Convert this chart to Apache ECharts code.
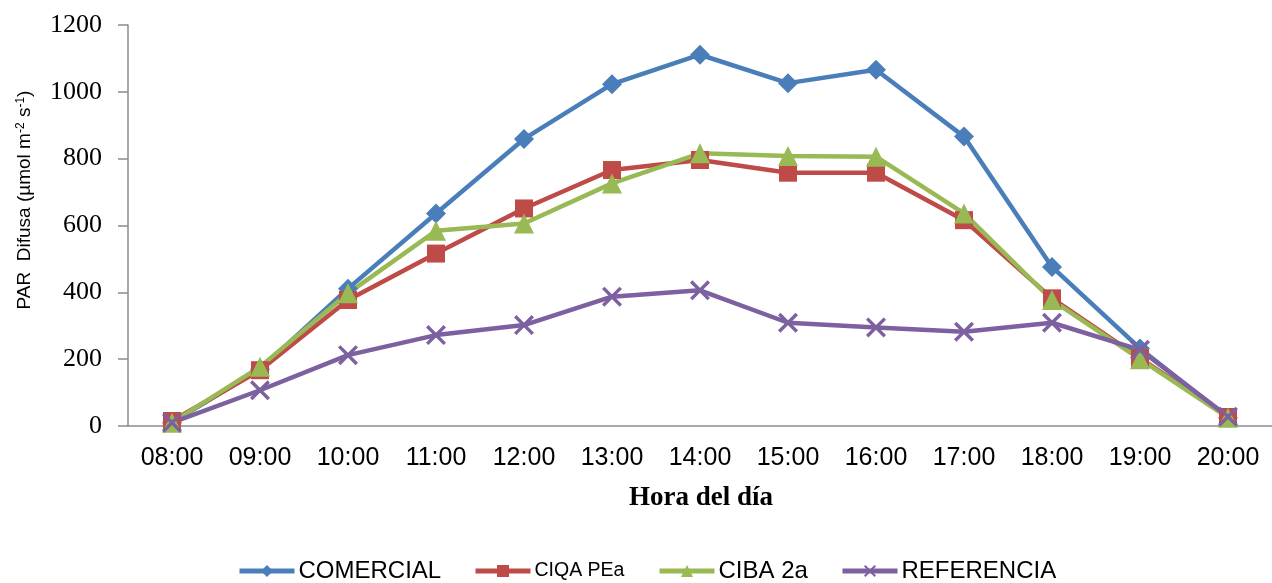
<!DOCTYPE html>
<html>
<head>
<meta charset="utf-8">
<title>PAR Difusa</title>
<script src="https://cdn.jsdelivr.net/npm/echarts@6/dist/echarts.min.js"></script>
<style>
  html, body { margin: 0; padding: 0; background: #ffffff; }
  #chart { width: 1272px; height: 583px; }
</style>
</head>
<body>
<div id="chart"></div>
<script>
// Hours of the day (x categories)
const hours = ['08:00', '09:00', '10:00', '11:00', '12:00', '13:00', '14:00',
               '15:00', '16:00', '17:00', '18:00', '19:00', '20:00'];

// Diffuse PAR (µmol m-2 s-1) per cover material
const comercial  = [10, 170, 411, 636, 859, 1023, 1111, 1026, 1066, 866, 476, 232, 25];
const ciqaPEa    = [15, 167, 377, 516, 651, 766, 796, 758, 758, 616, 382, 203, 27];
const ciba2a     = [10, 177, 397, 584, 606, 726, 816, 808, 806, 636, 377, 200, 25];
const referencia = [10, 107, 212, 272, 302, 387, 406, 309, 295, 282, 309, 228, 28];

// Y tick values
const yTicks = { min: 0, max: 1200, step: 200 };

const names = ['COMERCIAL', 'CIQA PEa', 'CIBA 2a', 'REFERENCIA'];
const colors = ['#4A7EBB', '#BE4B48', '#98B954', '#7D60A0'];

// Filled "x" glyph used as the marker of the reference series
const crossPath = 'path://M0,1.2L1.2,0L10,8.8L8.8,10Z M8.8,0L10,1.2L1.2,10L0,8.8Z';

function lineSeries(name, data, color, symbol, size) {
  return {
    name: name,
    type: 'line',
    data: data,
    symbol: symbol,
    symbolSize: size,
    showAllSymbol: true,
    lineStyle: { color: color, width: 4.5 },
    itemStyle: { color: color, borderColor: color, borderWidth: 0 },
    emphasis: { disabled: true },
    z: 2
  };
}

// One legend block per series so each entry sits at its own offset
const legendLeft = [237, 473, 657, 840];
const legendTop = [559, 561, 559, 559];
const legendFont = [24, 19.5, 24, 24];
const legends = names.map(function (name, i) {
  return {
    data: [name],
    left: legendLeft[i],
    top: legendTop[i],
    padding: 0,
    itemWidth: 55,
    itemHeight: 15,
    itemGap: 4,
    lineStyle: { width: 5 },
    textStyle: {
      color: '#000000',
      fontFamily: 'Liberation Sans, Arial, sans-serif',
      fontSize: legendFont[i],
      padding: [0, 0, 0, -1]
    },
    selectedMode: false
  };
});

const chart = echarts.init(document.getElementById('chart'), null, { renderer: 'canvas' });

chart.setOption({
  animation: false,
  backgroundColor: '#ffffff',
  grid: { left: 128, top: 25, right: -9, bottom: 157, containLabel: false },
  xAxis: {
    type: 'category',
    data: hours,
    boundaryGap: true,
    axisLine: { show: true, lineStyle: { color: '#8C8C8C', width: 1.5 } },
    axisTick: { show: false },
    axisLabel: {
      margin: 20,
      color: '#000000',
      fontFamily: 'Liberation Sans, Arial, sans-serif',
      fontSize: 25
    },
    splitLine: { show: false }
  },
  yAxis: {
    type: 'value',
    min: yTicks.min,
    max: yTicks.max,
    interval: yTicks.step,
    axisLine: { show: true, lineStyle: { color: '#8C8C8C', width: 1.5 } },
    axisTick: { show: true, inside: false, length: 10, lineStyle: { color: '#8C8C8C', width: 1.5 } },
    axisLabel: {
      margin: 26,
      color: '#000000',
      fontFamily: 'Liberation Serif, Times New Roman, serif',
      fontSize: 26,
      formatter: function (v) { return String(v); }
    },
    splitLine: { show: false }
  },
  legend: legends,
  graphic: [
    {
      type: 'text',
      x: 25,
      y: 200,
      rotation: Math.PI / 2,
      style: {
        text: 'PAR  Difusa (µmol m{s|-2} s{s|-1})',
        fill: '#000000',
        font: '19px "Liberation Sans", Arial, sans-serif',
        align: 'center',
        verticalAlign: 'middle',
        rich: {
          s: { fontSize: 12, verticalAlign: 'top', padding: [0, 0, 9, 0], fill: '#000000' }
        }
      }
    },
    {
      type: 'text',
      x: 701,
      y: 498,
      style: {
        text: 'Hora del día',
        fill: '#000000',
        font: 'bold 27px "Liberation Serif", "Times New Roman", serif',
        align: 'center',
        verticalAlign: 'middle'
      }
    }
  ],
  series: [
    lineSeries(names[0], comercial,  colors[0], 'diamond',  20),
    lineSeries(names[1], ciqaPEa,    colors[1], 'rect',     18),
    lineSeries(names[2], ciba2a,     colors[2], 'triangle', 20),
    lineSeries(names[3], referencia, colors[3], crossPath,  20)
  ]
});
</script>
</body>
</html>
